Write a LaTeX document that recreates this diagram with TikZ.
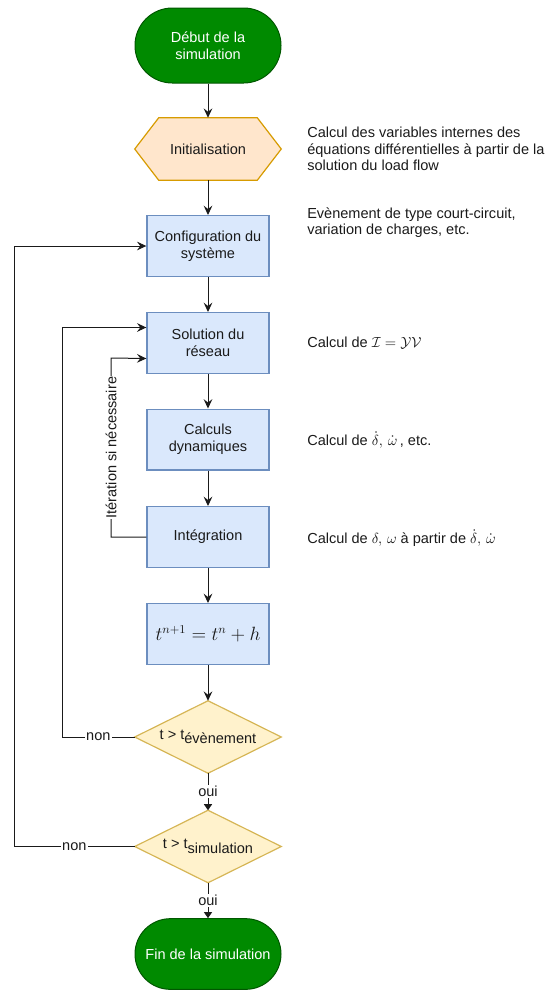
\documentclass[tikz,border=0pt]{standalone}
\usepackage{fontspec}
\setmainfont{Liberation Sans}
\usetikzlibrary{arrows.meta,calc}
\pgfdeclarelayer{background}
\pgfsetlayers{background,main}
\definecolor{termfill}{HTML}{008A00}
\definecolor{termdraw}{HTML}{005700}
\definecolor{hexfill}{HTML}{FFE6CC}
\definecolor{hexdraw}{HTML}{D79B00}
\definecolor{boxfill}{HTML}{DAE8FC}
\definecolor{boxdraw}{HTML}{6C8EBF}
\definecolor{decfill}{HTML}{FFF2CC}
\definecolor{decdraw}{HTML}{D6B656}
\definecolor{linecol}{HTML}{1A1A1A}
\definecolor{txt}{HTML}{1A1A1A}
\begin{document}
\begin{tikzpicture}[x=0.75pt,y=-0.75pt,
  font=\fontsize{10.9}{12.4}\selectfont,
  term/.style={rectangle, rounded corners=28pt, fill=termfill, draw=termdraw, line width=0.75pt,
    minimum width=109.5pt, minimum height=56.25pt, text=white, align=center, inner sep=0pt},
  procbox/.style={rectangle, fill=boxfill, draw=boxdraw, line width=1pt,
    minimum width=91.5pt, minimum height=45.5pt, align=center, text=txt, inner sep=0pt},
  hexbox/.style={rectangle, minimum width=109.5pt, minimum height=46.5pt, inner sep=0pt, text=txt},
  decbox/.style={rectangle, minimum width=109.5pt, minimum height=54pt, inner sep=0pt, text=txt},
  shapeline/.style={line width=0.9pt, line join=miter},
  note/.style={anchor=west, align=left, text=txt, inner sep=0pt},
  conn/.style={draw=linecol, line width=0.75pt, -{Stealth[length=7pt,width=6.5pt,inset=2.5pt]}},
  connsmall/.style={draw=linecol, line width=0.75pt, -{Triangle[length=4.5pt,width=6pt]}},
  lbl/.style={fill=white, inner sep=1pt, text=txt},
]
\useasboundingbox (0,0) rectangle (544,990);

% nodes
\node[term] (start) at (208,45.5) {Début de la\\simulation};
\node[hexbox] (hex) at (208,149) {Initialisation};
\node[procbox] (config) at (208,246) {Configuration du\\système};
\node[procbox] (sol) at (208,343) {Solution du\\réseau};
\node[procbox] (calc) at (208,439.5) {Calculs\\dynamiques};
\node[procbox] (integ) at (208,537) {Intégration};
\node[procbox] (tbox) at (208,634) {\fontsize{13.4}{16}\selectfont$t^{n+1} = t^n + h$};
\node[decbox] (d1) at (208,737) {t > t\raisebox{-3.5pt}{évènement}};
\node[decbox] (d2) at (208,846.5) {t > t\raisebox{-3.5pt}{simulation}};
\node[term, minimum height=53pt, rounded corners=26.5pt] (fin) at (208,954) {Fin de la simulation};

% notes
\node[note] (n1) at (307,149) {Calcul des variables internes des\\équations différentielles à partir de la\\solution du load flow};
\node[note] (n2) at (307,222.5) {Evènement de type court-circuit,\\variation de charges, etc.};
\node[note] (n3) at (307,343) {Calcul de $\mathcal{I} = \mathcal{Y}\mathcal{V}$};
\node[note] (n4) at (307,440) {Calcul de $\dot{\delta},\,\dot{\omega}$\,, etc.};
\node[note] (n5) at (307,538) {Calcul de $\delta,\,\omega$ à partir de $\dot{\delta},\,\dot{\omega}$};

% shapes drawn behind
\begin{pgfonlayer}{background}
  \filldraw[fill=hexfill, draw=hexdraw, shapeline]
    (hex.west) -- ([xshift=18pt]hex.north west) -- ([xshift=-18pt]hex.north east)
    -- (hex.east) -- ([xshift=-18pt]hex.south east) -- ([xshift=18pt]hex.south west) -- cycle;
  \filldraw[fill=decfill, draw=decdraw, shapeline]
    (d1.north) -- (d1.east) -- (d1.south) -- (d1.west) -- cycle;
  \filldraw[fill=decfill, draw=decdraw, shapeline]
    (d2.north) -- (d2.east) -- (d2.south) -- (d2.west) -- cycle;
\end{pgfonlayer}

% anchor points
\coordinate (solA) at ($(sol.north west)!0.25!(sol.south west)$);
\coordinate (solB) at ($(sol.north west)!0.75!(sol.south west)$);
\coordinate (loopIn) at (62,737);
\coordinate (loopOut) at (14,846.5);
\coordinate (iterA) at (111,537);
\coordinate (iterB) at (111,358);

% connectors
\draw[conn] (start) -- (hex);
\draw[conn] (hex) -- (config);
\draw[conn] (config) -- (sol);
\draw[conn] (sol) -- (calc);
\draw[conn] (calc) -- (integ);
\draw[conn] (integ) -- (tbox);
\draw[conn] (tbox) -- (d1.north);
\draw[connsmall] (d1.south) -- node[lbl] {oui} (d2.north);
\draw[connsmall] (d2.south) -- node[lbl] {oui} (fin);
\draw[conn] (d1.west) -- node[lbl] {non} (loopIn) |- (solA);
\draw[conn] (d2.west) -- node[lbl] {non} (loopOut) |- (config.west);
\draw[conn] (integ.west) -- (iterA) -- node[lbl, rotate=90, inner sep=0.5pt] {Itération si nécessaire} (iterB) -- (solB);
\end{tikzpicture}
\end{document}
